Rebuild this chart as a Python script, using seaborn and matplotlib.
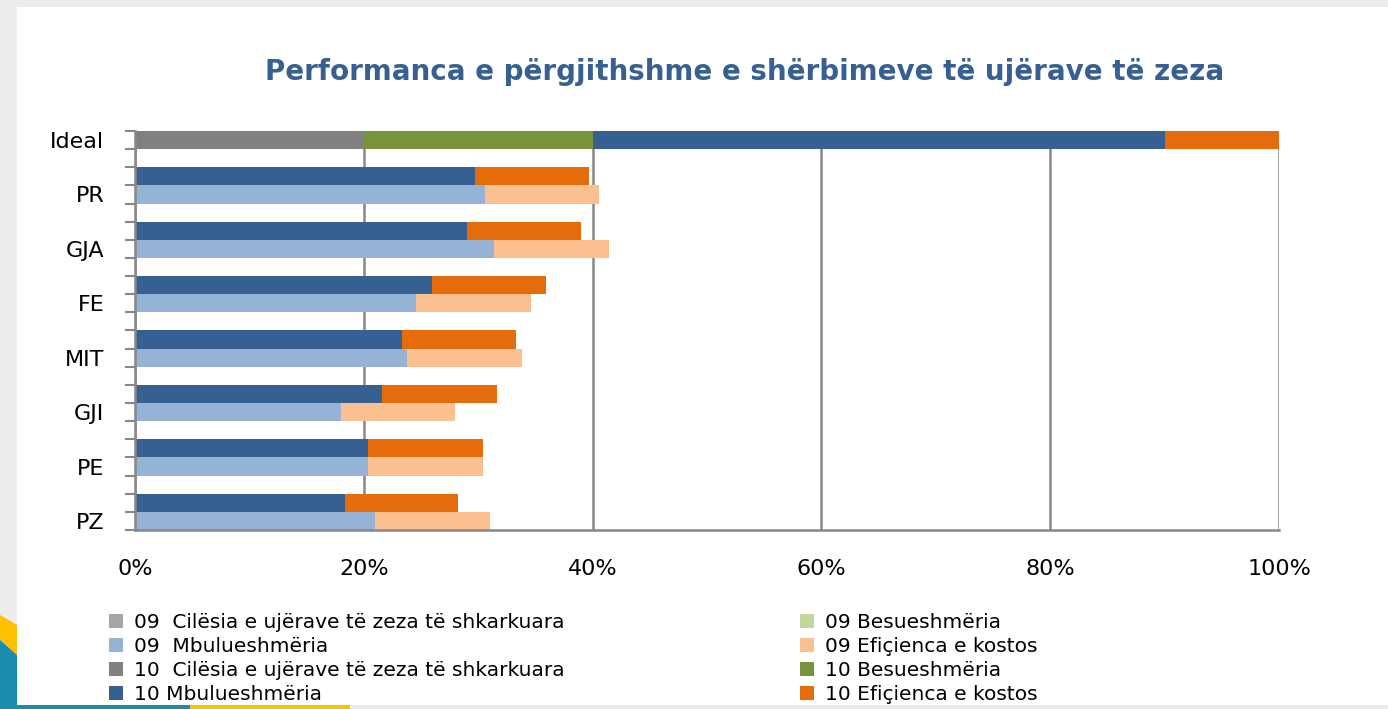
import pandas as pd
import matplotlib.pyplot as plt
import matplotlib.patches as mpatches
from matplotlib.ticker import FixedLocator, FuncFormatter
import seaborn as sns

sns.set_theme(style="white")
plt.rcParams['font.family'] = ['DejaVu Sans']

# Values in percent
categories = ['Ideal', 'PR', 'GJA', 'FE', 'MIT', 'GJI', 'PE', 'PZ']

cil_10 = [20, 0, 0, 0, 0, 0, 0, 0]
bes_10 = [20, 0, 0, 0, 0, 0, 0, 0]
mbul_10 = [50, 29.7, 29.0, 26.0, 23.3, 21.6, 20.4, 18.4]
efic_10 = [10, 10.0, 10.0, 9.9, 10.0, 10.0, 10.0, 9.8]

cil_09 = [0, 0, 0, 0, 0, 0, 0, 0]
bes_09 = [0, 0, 0, 0, 0, 0, 0, 0]
mbul_09 = [0, 30.6, 31.4, 24.6, 23.8, 18.0, 20.4, 21.0]
efic_09 = [0, 10.0, 10.0, 10.0, 10.0, 10.0, 10.0, 10.0]

x_ticks = [0, 20, 40, 60, 80, 100]

colors = {
    '09 Cil': '#A6A6A6', '09 Bes': '#C3D69B', '09 Mbul': '#95B3D7', '09 Efic': '#FAC090',
    '10 Cil': '#808080', '10 Bes': '#77933C', '10 Mbul': '#376092', '10 Efic': '#E46C0A',
}

legend_left = [('09  Cilësia e ujërave të zeza të shkarkuara', '09 Cil'),
               ('09  Mbulueshmëria', '09 Mbul'),
               ('10  Cilësia e ujërave të zeza të shkarkuara', '10 Cil'),
               ('10 Mbulueshmëria', '10 Mbul')]
legend_right = [('09 Besueshmëria', '09 Bes'),
                ('09 Efiçienca e kostos', '09 Efic'),
                ('10 Besueshmëria', '10 Bes'),
                ('10 Efiçienca e kostos', '10 Efic')]

# Build the row layout: Ideal has one bar, the others a "10" bar and a "09" bar, with a gap row between groups
rows = []
label_rows = []
for i, cat in enumerate(categories):
    if i == 0:
        rows.append(('r0', cat, '10', i))
        label_rows.append('r0')
    else:
        rows.append((f'g{i}', None, None, i))
        rows.append((f'a{i}', cat, '10', i))
        rows.append((f'b{i}', cat, '09', i))
        label_rows.append(f'b{i}')
row_order = [r[0] for r in rows]

series = {'10': [cil_10, bes_10, mbul_10, efic_10], '09': [cil_09, bes_09, mbul_09, efic_09]}
seg_names = ['Cil', 'Bes', 'Mbul', 'Efic']

records = []
for rid, cat, yr, i in rows:
    if cat is None:
        continue
    cum = 0
    for name, vals in zip(seg_names, series[yr]):
        cum += vals[i]
        records.append({'row': rid, 'series': f'{yr} {name}', 'level': name, 'end': cum})
df = pd.DataFrame(records)

fig = plt.figure(figsize=(13.88, 7.09), dpi=100)
fig.patch.set_facecolor('#ECECEC')
deco = dict(transform=fig.transFigure, edgecolor='none', zorder=-5)
fig.patches.append(mpatches.Rectangle((17 / 1388, 4 / 709), 1 - 17 / 1388, 1 - 11 / 709,
                                      facecolor='white', **deco))
# slide decoration bits at the left/bottom edge
fig.patches.append(mpatches.Polygon([(0, 1 - 615 / 709), (17 / 1388, 1 - 625 / 709), (17 / 1388, 1 - 655 / 709), (0, 1 - 640 / 709)],
                                    closed=True, facecolor='#FFC000', **deco))
fig.patches.append(mpatches.Polygon([(0, 1 - 640 / 709), (17 / 1388, 1 - 655 / 709), (17 / 1388, 0), (0, 0)],
                                    closed=True, facecolor='#1A8CB0', **deco))
fig.patches.append(mpatches.Rectangle((0, 0), 190 / 1388, 4 / 709, facecolor='#1A8CB0', **deco))
fig.patches.append(mpatches.Rectangle((190 / 1388, 0), 160 / 1388, 4 / 709, facecolor='#FFC000', **deco))

ax = fig.add_axes([135 / 1388, 1 - 530 / 709, (1279 - 135) / 1388, (530 - 131) / 709])
ax.set_zorder(2)
ax.set_facecolor('white')

# Stacked bars: draw the longest cumulative layer first, shorter ones on top
for level in reversed(seg_names):
    layer = df[df['level'] == level]
    sns.barplot(data=layer, x='end', y='row', hue='series', palette=colors, order=row_order,
                orient='h', dodge=False, width=1.0, errorbar=None, linewidth=0, saturation=1,
                legend=False, ax=ax)

ax.set_xlim(0, 100)
ax.set_ylim(len(row_order) - 0.5, -0.5)
ax.set_xlabel('')
ax.set_ylabel('')

# Gridlines and axes
ax.set_axisbelow(True)
ax.xaxis.set_major_locator(FixedLocator(x_ticks))
ax.xaxis.set_major_formatter(FuncFormatter(lambda v, p: f'{int(v)}%'))
ax.grid(axis='x', color='#878787', linewidth=1.8)
ax.grid(axis='y', visible=False)
ax.tick_params(axis='x', length=0, pad=21, labelsize=16, labelcolor='black')

ax.set_yticks([row_order.index(r) for r in label_rows])
ax.set_yticklabels(categories, fontsize=16, color='black')
ax.set_yticks([k - 0.5 for k in range(len(row_order) + 1)], minor=True)
ax.tick_params(axis='y', which='major', length=0, pad=22)
ax.tick_params(axis='y', which='minor', length=7, width=1.5, color='#878787', left=True)

for side in ['top', 'right']:
    ax.spines[side].set_visible(False)
for side in ['left', 'bottom']:
    ax.spines[side].set_color('#878787')
    ax.spines[side].set_linewidth(1.8)

fig.text(745 / 1388, 1 - 72 / 709, 'Performanca e përgjithshme e shërbimeve të ujërave të zeza',
         ha='center', va='center', fontsize=20, fontweight='bold', color='#376092')


def make_handles(items):
    return [mpatches.Patch(facecolor=colors[key], edgecolor='none', label=text) for text, key in items]


leg_kw = dict(frameon=False, fontsize=14.5, handlelength=0.7, handleheight=0.7, handletextpad=0.55,
              labelspacing=0.25, borderpad=0, borderaxespad=0, loc='upper left', labelcolor='black')
fig.legend(handles=make_handles(legend_left), bbox_to_anchor=(109 / 1388, 1 - 613 / 709), **leg_kw)
fig.legend(handles=make_handles(legend_right), bbox_to_anchor=(800 / 1388, 1 - 613 / 709), **leg_kw)

plt.savefig('out.png', dpi=100, facecolor=fig.get_facecolor())
